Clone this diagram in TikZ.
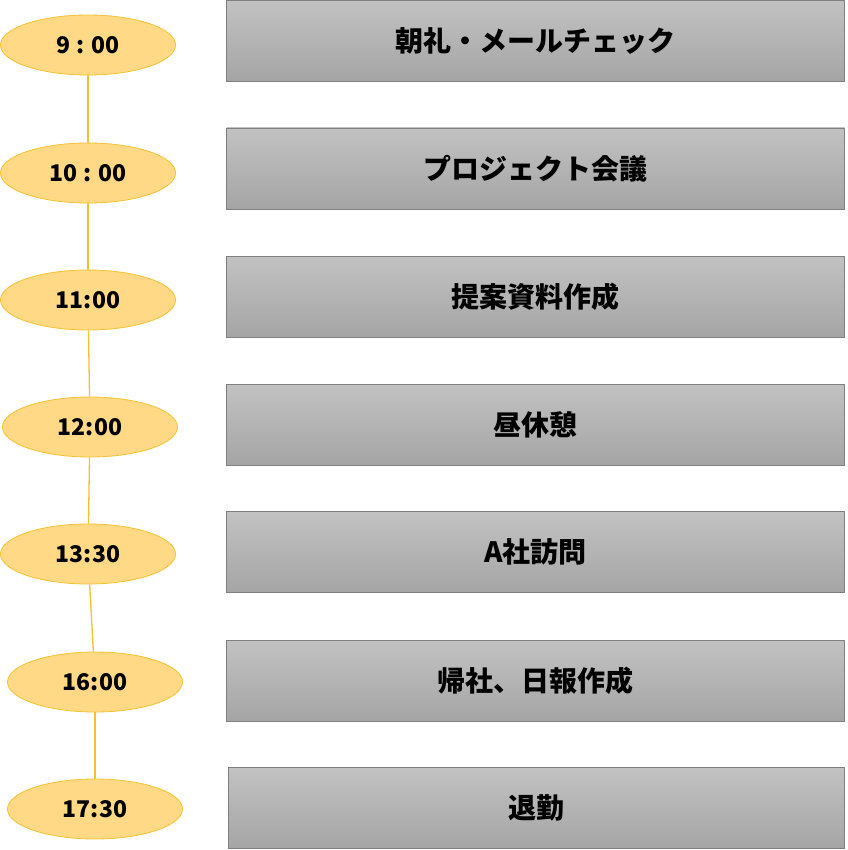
\documentclass[tikz,border=0pt]{standalone}
\usepackage{fontspec}
\newfontfamily\jpfont{Noto Sans CJK JP}
\usetikzlibrary{shapes.geometric}

\definecolor{timefill}{HTML}{FFD986}
\definecolor{timeline}{HTML}{F2C230}
\definecolor{boxtop}{HTML}{C2C2C2}
\definecolor{boxbottom}{HTML}{A5A5A5}
\definecolor{boxline}{HTML}{7F7F7F}

\tikzset{
  timeell/.style = {ellipse, draw = timeline, fill = timefill, line width = .8pt,
  minimum width = 175pt, minimum height = 60pt, inner sep = 0pt,
  font = \jpfont\bfseries\fontsize{23}{23}\selectfont},
  taskbox/.style = {rectangle, draw = boxline, line width = .8pt,
  top color = boxtop, bottom color = boxbottom, minimum width = 618pt,
  minimum height = 81pt, inner sep = 0pt,
  font = \jpfont\bfseries\fontsize{28}{28}\selectfont},
  link/.style = {draw = timeline, line width = 1.3pt}
}

\begin{document}
\begin{tikzpicture}[x = 1pt, y = -1pt, line join = round]
  \useasboundingbox (0, 0) rectangle (847, 850);

  % times
  \node[timeell] (T1) at (88, 45) {9 : 00};
  \node[timeell] (T2) at (88, 173) {10 : 00};
  \node[timeell] (T3) at (88, 300) {11:00};
  \node[timeell] (T4) at (90, 427) {12:00};
  \node[timeell] (T5) at (88, 554) {13:30};
  \node[timeell] (T6) at (95, 682) {16:00};
  \node[timeell] (T7) at (95, 809) {17:30};

  \draw[link] (T1) -- (T2);
  \draw[link] (T2) -- (T3);
  \draw[link] (T3) -- (T4);
  \draw[link] (T4) -- (T5);
  \draw[link] (T5) -- (T6);
  \draw[link] (T6) -- (T7);

  % tasks
  \node[taskbox] (A1) at (535.5, 40.5) {朝礼・メールチェック};
  \node[taskbox] (A2) at (535.5, 168.5) {プロジェクト会議};
  \node[taskbox] (A3) at (535.5, 296.5) {提案資料作成};
  \node[taskbox] (A4) at (535.5, 424.5) {昼休憩};
  \node[taskbox] (A5) at (535.5, 552) {A社訪問};
  \node[taskbox] (A6) at (535.5, 680.5) {帰社、日報作成};
  \node[taskbox, minimum width = 616pt] (A7) at (536.5, 808) {退勤};
\end{tikzpicture}
\end{document}
